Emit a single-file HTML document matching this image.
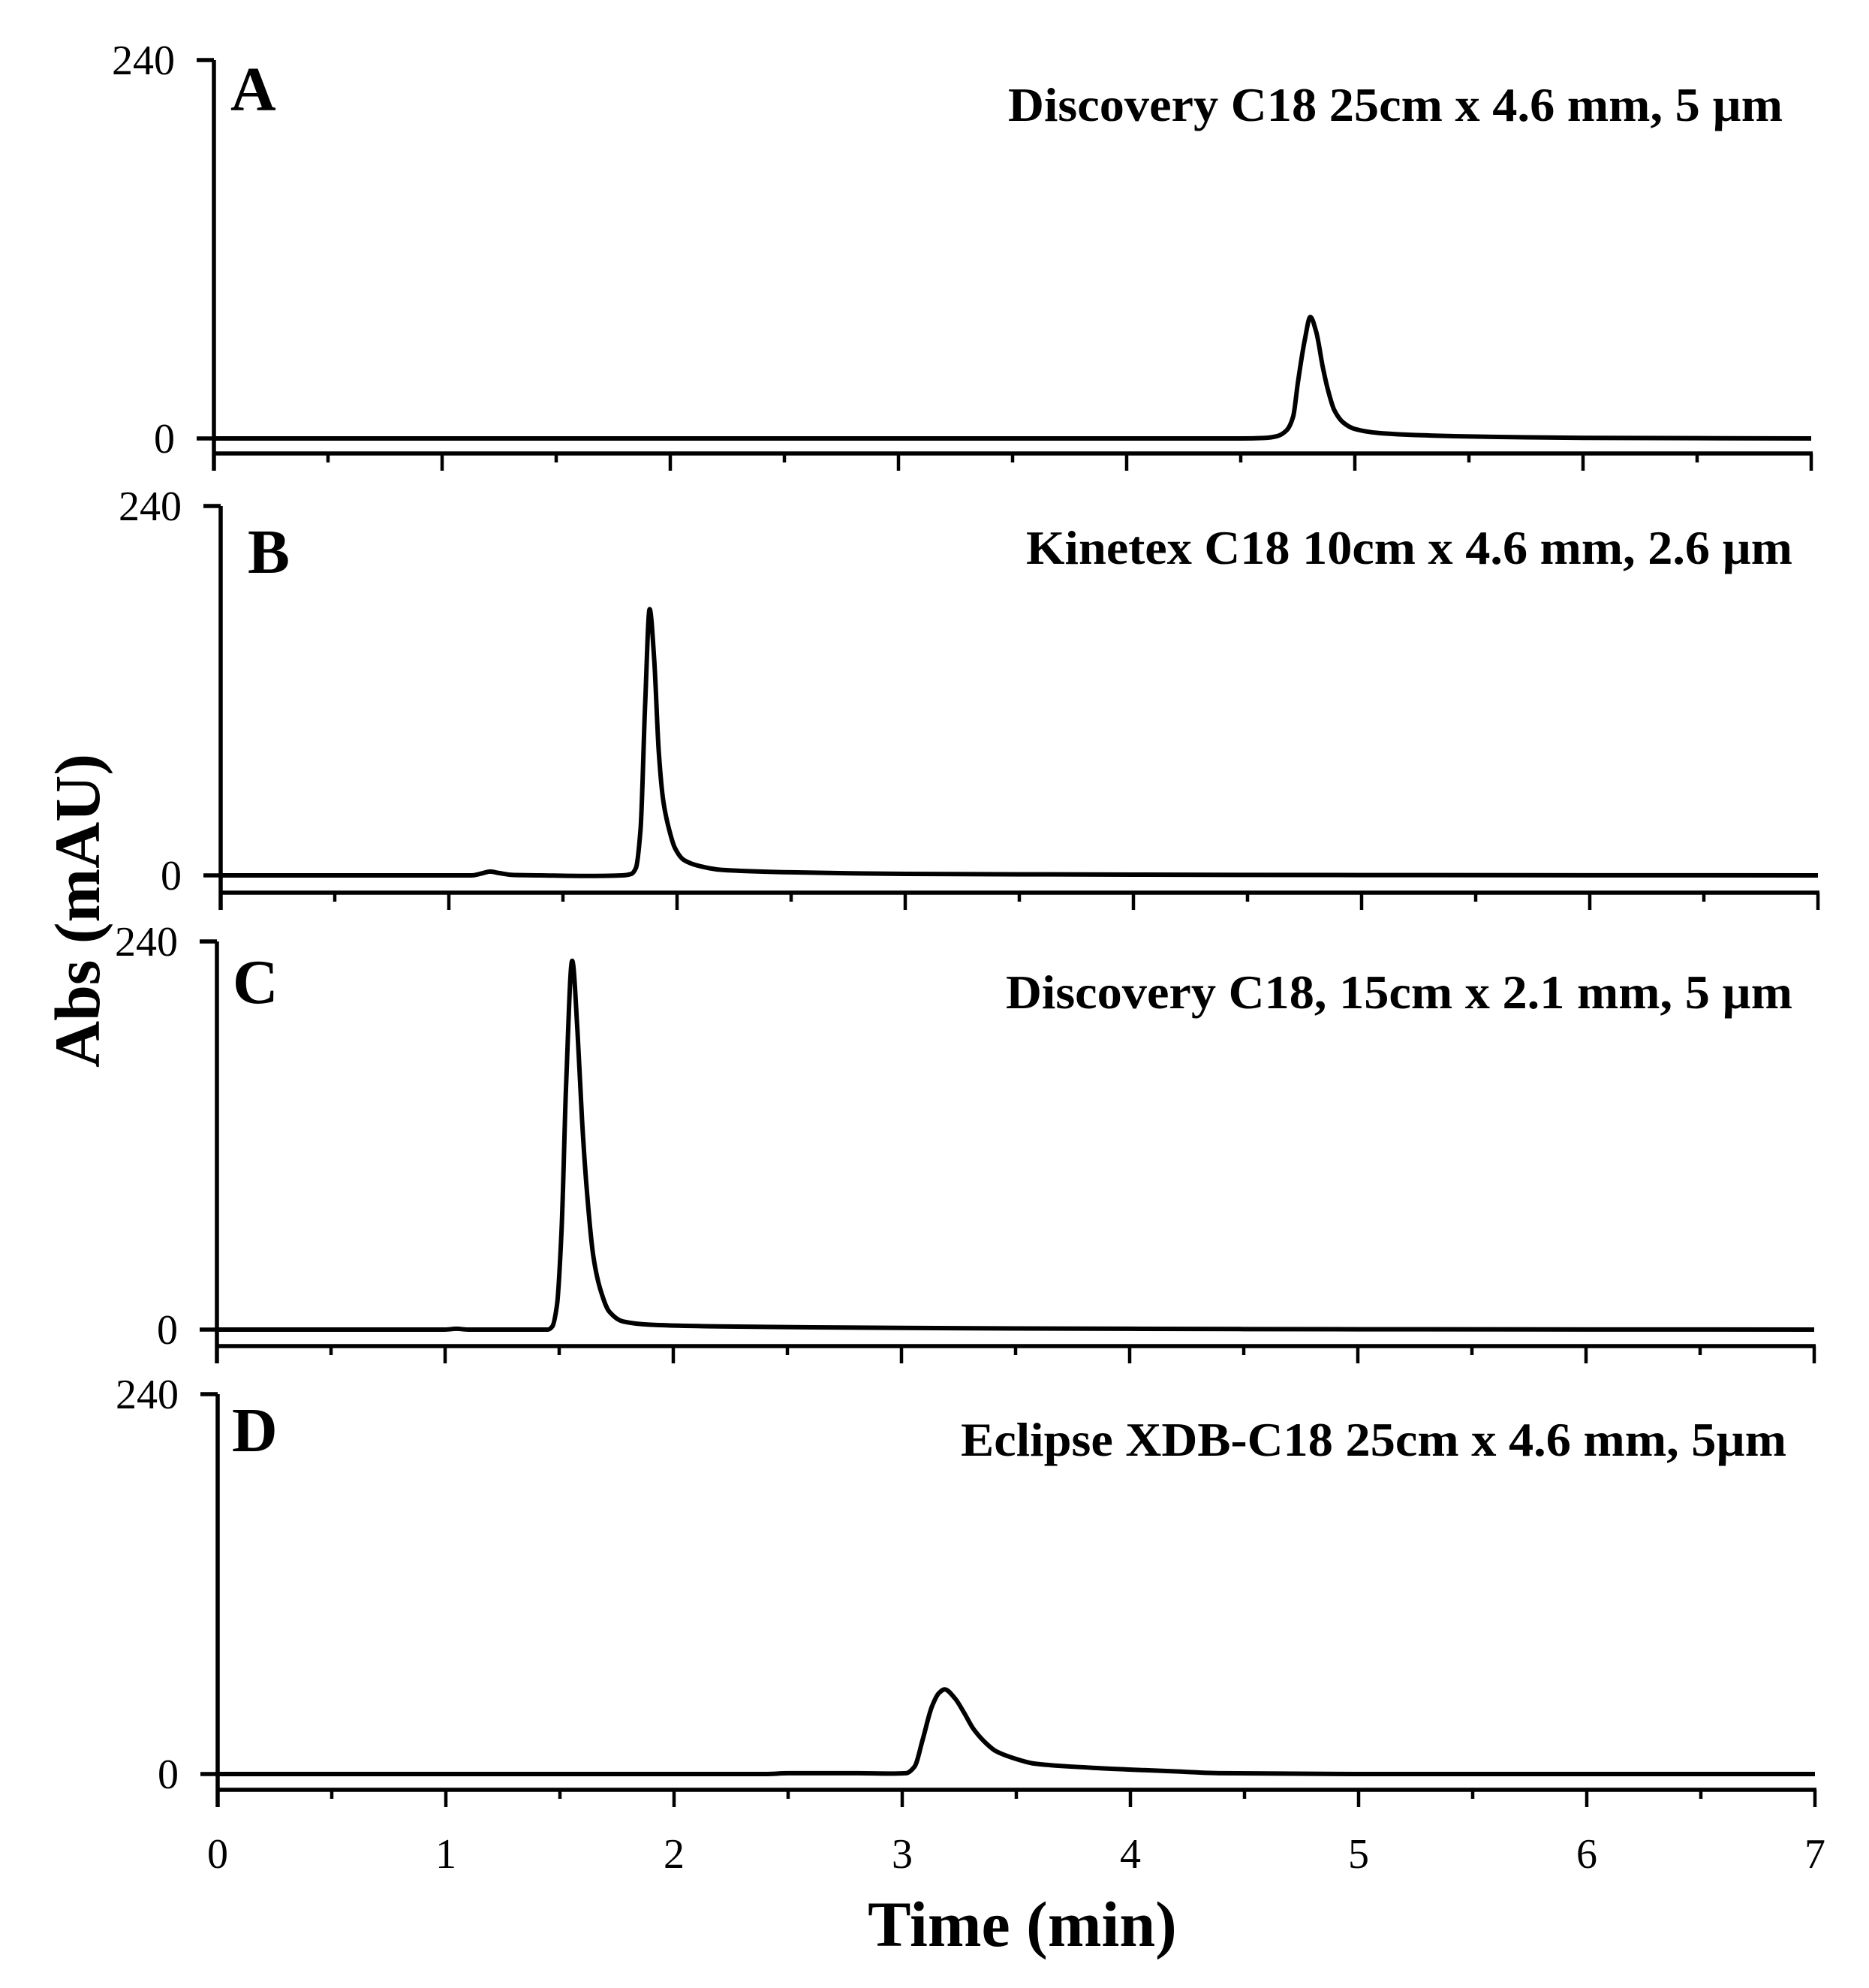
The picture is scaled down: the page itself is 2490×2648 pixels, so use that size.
<!DOCTYPE html>
<html><head><meta charset="utf-8"><style>
html,body{margin:0;padding:0;background:#fff}
svg{display:block}
text{font-family:"Liberation Serif","DejaVu Serif",serif;fill:#000}
</style></head><body>
<svg id="chart" xmlns="http://www.w3.org/2000/svg" width="2490" height="2648" viewBox="0 0 2490 2648">
<text x="0" y="0" font-size="86" font-weight="bold" text-anchor="middle" transform="translate(132,1213) rotate(-90)">Abs (mAU)</text>
<text x="1362" y="2592" font-size="86" font-weight="bold" text-anchor="middle">Time (min)</text>
</svg>
<script>
// ---- data ----
const xTicks = [0,1,2,3,4,5,6,7];
const yTicks = [0,240];
const panelLetters = ["A","B","C","D"];
const panelTitles = ["Discovery C18 25cm x 4.6 mm, 5 \u00b5m","Kinetex C18 10cm x 4.6 mm, 2.6 \u00b5m","Discovery C18, 15cm x 2.1 mm, 5 \u00b5m","Eclipse XDB-C18 25cm x 4.6 mm, 5\u00b5m"];
const timeA = [0,4.5,4.6,4.66,4.70,4.73,4.75,4.78,4.805,4.83,4.86,4.88,4.91,4.95,5.0,5.1,5.3,5.6,6.0,7];
const absA  = [0,0,0.3,1.5,5,14,35,62,77,68,45,32,18,10,6,3.5,2,1,0.4,0];
const timeB = [0,1.1,1.15,1.18,1.22,1.28,1.4,1.6,1.76,1.80,1.82,1.84,1.86,1.88,1.90,1.92,1.94,1.96,1.99,2.03,2.1,2.2,2.5,3,4,5,7];
const absB  = [0,0,1.5,2.5,1.5,0.3,0,-0.4,0,1,5,30,110,173,140,80,48,33,18,10,6,3.5,2,1,0.5,0.2,0];
const timeC = [0,1.0,1.05,1.1,1.45,1.47,1.49,1.51,1.53,1.557,1.58,1.60,1.62,1.65,1.68,1.72,1.78,1.9,2.2,3,4,5,7];
const absC  = [0,0,0.5,0,0,2,15,60,150,228,185,130,88,45,25,11,5,3,2,1,0.5,0.2,0];
const timeD = [0,2.4,2.5,2.8,2.95,3.016,3.054,3.09,3.13,3.16,3.186,3.23,3.27,3.31,3.36,3.41,3.5,3.58,3.83,4.0,4.21,4.4,5,7];
const absD  = [0,0,0.5,0.5,0.3,0.5,4.7,22,42.6,51,53.5,48,39,29,20.5,14.5,9.5,6.6,4,2.8,1.6,0.5,0,0];
const seriesTimes = [timeA,timeB,timeC,timeD];
const seriesAbs = [absA,absB,absC,absD];

// ---- layout ----
const PPM = 304;
const layout = [
  {x0:285,top:80,zero:584,axis:604,lx:307,ly:147,tl:1343,tr:2375,tb:161},
  {x0:294,top:674,zero:1166,axis:1189,lx:330,ly:763,tl:1367,tr:2388,tb:751},
  {x0:289,top:1254,zero:1771,axis:1793,lx:310,ly:1336,tl:1340,tr:2388,tb:1343},
  {x0:290,top:1857,zero:2363,axis:2384,lx:309,ly:1933,tl:1280,tr:2380,tb:1939}
];
const NS="http://www.w3.org/2000/svg";
const svg=document.getElementById('chart');
function mk(tag,attrs,parent){const e=document.createElementNS(NS,tag);for(const k in attrs)e.setAttribute(k,attrs[k]);(parent||svg).appendChild(e);return e;}
function monoPath(pts){
  const n=pts.length,dx=[],m=[],s=[];
  for(let i=0;i<n-1;i++){dx[i]=pts[i+1][0]-pts[i][0];s[i]=(pts[i+1][1]-pts[i][1])/dx[i];}
  m[0]=s[0];m[n-1]=s[n-2];
  for(let i=1;i<n-1;i++){
    if(s[i-1]*s[i]<=0)m[i]=0;
    else{const w1=2*dx[i]+dx[i-1],w2=dx[i]+2*dx[i-1];m[i]=(w1+w2)/(w1/s[i-1]+w2/s[i]);}
  }
  let d="M"+pts[0][0].toFixed(1)+","+pts[0][1].toFixed(1);
  for(let i=0;i<n-1;i++){
    const h=dx[i]/3;
    d+=" C"+(pts[i][0]+h).toFixed(1)+","+(pts[i][1]+m[i]*h).toFixed(1)+" "+(pts[i+1][0]-h).toFixed(1)+","+(pts[i+1][1]-m[i+1]*h).toFixed(1)+" "+pts[i+1][0].toFixed(1)+","+pts[i+1][1].toFixed(1);
  }
  return d;
}
layout.forEach((L,i)=>{
  const g=mk('g',{});
  
  
  const xs=t=>L.x0+PPM*(t-xTicks[0]);
  const ys=v=>L.zero-(L.zero-L.top)*(v-yTicks[0])/(yTicks[1]-yTicks[0]);
  const xEnd=xs(xTicks[xTicks.length-1]);
  const ya=mk('line',{x1:L.x0,y1:ys(yTicks[1]),x2:L.x0,y2:L.axis+23,stroke:'#000','stroke-width':5.5},g);
  
  
  const xa=mk('line',{x1:L.x0,y1:L.axis,x2:xEnd+2,y2:L.axis,stroke:'#000','stroke-width':5.5},g);
  
  
  for(let k=0;k<=14;k++){
    const t=k/2;const major=k%2===0;
    const tk=mk('line',{x1:xs(t),y1:L.axis,x2:xs(t),y2:L.axis+(major?23:12),stroke:'#000','stroke-width':4.5},g);
    
    
  }
  if(i===3){
    xTicks.forEach(t=>{
      const tl=mk('text',{x:xs(t),y:2488,'font-size':56,'text-anchor':'middle'},g);
      tl.textContent=String(t);
      
      
    });
  }
  yTicks.forEach(v=>{
    const tk=mk('line',{x1:L.x0-23,y1:ys(v),x2:L.x0,y2:ys(v),stroke:'#000','stroke-width':5.5},g);
    
    
    const tl=mk('text',{x:L.x0-52,y:ys(v)+19,'font-size':56,'text-anchor':'end'},g);
    tl.textContent=String(v);
    
    
  });
  const pts=seriesTimes[i].map((t,j)=>[xs(t),ys(seriesAbs[i][j])]);
  const p=mk('path',{d:monoPath(pts),fill:'none',stroke:'#000','stroke-width':6,'stroke-linejoin':'round'},g);
  
  
  const lt=mk('text',{x:L.lx,y:L.ly,'font-size':84,'font-weight':'bold'},g);
  lt.textContent=panelLetters[i];
  
  
  const tt=mk('text',{x:L.tl,y:L.tb,'font-size':64,'font-weight':'bold',textLength:(L.tr-L.tl),lengthAdjust:'spacingAndGlyphs'},g);
  tt.textContent=panelTitles[i];
  
  
});
</script>
</body></html>
